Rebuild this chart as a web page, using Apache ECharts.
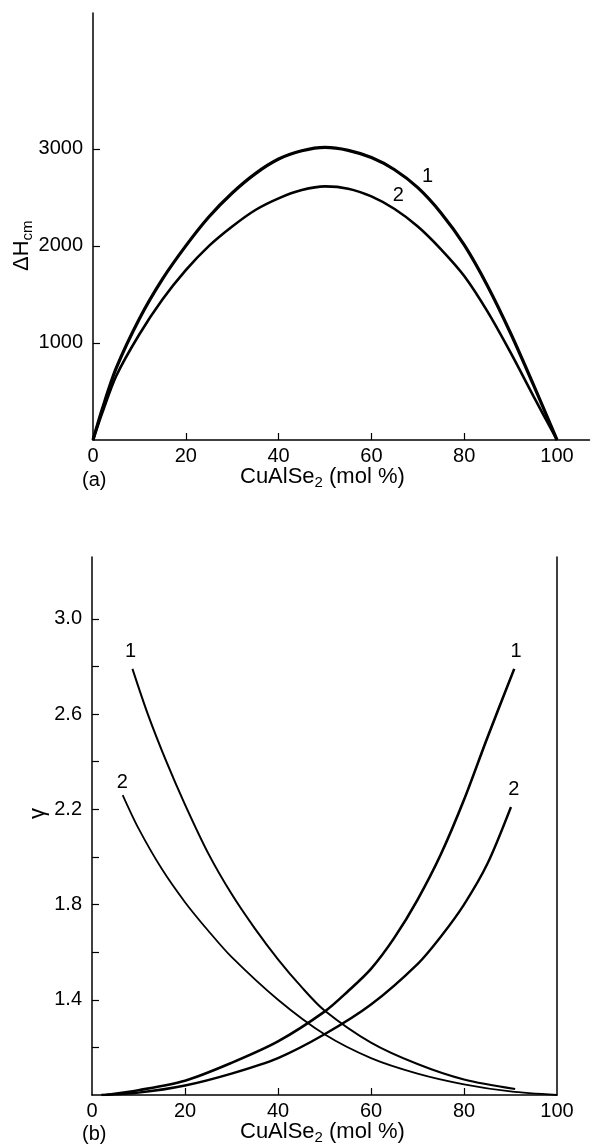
<!DOCTYPE html>
<html>
<head>
<meta charset="utf-8">
<script src="https://cdn.jsdelivr.net/npm/echarts@6/dist/echarts.min.js"></script>
<style>
html,body{margin:0;padding:0;background:#fff;}
#c{width:591px;height:1146px;}
</style>
</head>
<body>
<div id="c"></div>
<script>
// ---------- data: panel (a) ----------
const xTickValues = [0, 20, 40, 60, 80, 100];
const hTickValues = [1000, 2000, 3000];
const hX = [0, 2, 5, 10, 15, 20, 25, 30, 35, 40, 45, 50, 55, 60, 65, 70, 75, 80, 85, 90, 95, 100];
const h1 = [0, 320, 740, 1250, 1660, 2000, 2300, 2545, 2745, 2895, 2980, 3015, 2985, 2910, 2785, 2600, 2340, 2010, 1590, 1100, 560, 0];
const h2 = [0, 280, 660, 1090, 1450, 1750, 2000, 2200, 2370, 2490, 2575, 2613, 2590, 2510, 2380, 2200, 1965, 1690, 1325, 900, 445, 0];
const hLabels = [[72.2, 2710, '1'], [65.9, 2513, '2']];

// ---------- data: panel (b) ----------
const gLabelTicks = [1.4, 1.8, 2.2, 2.6, 3.0];
const gAllTicks = [1.2, 1.4, 1.6, 1.8, 2.0, 2.2, 2.4, 2.6, 2.8, 3.0];
const xTickInner = [20, 40, 60, 80];
const asc1X = [3, 10, 20, 30, 40, 50, 55, 60, 65, 70, 75, 80, 85, 90.8];
const asc1Y = [1.0, 1.02, 1.06, 1.135, 1.225, 1.35, 1.435, 1.53, 1.66, 1.82, 2.01, 2.24, 2.50, 2.79];
const asc2X = [2, 10, 20, 30, 40, 50, 60, 70, 75, 80, 85, 90.1];
const asc2Y = [1.0, 1.01, 1.04, 1.09, 1.155, 1.255, 1.38, 1.55, 1.665, 1.80, 1.97, 2.21];
const desc1X = [8.7, 12, 16, 20, 25, 30, 35, 40, 45, 50, 60, 70, 80, 91];
const desc1Y = [2.79, 2.60, 2.40, 2.22, 2.015, 1.845, 1.70, 1.57, 1.455, 1.355, 1.22, 1.13, 1.065, 1.025];
const desc2X = [6.6, 10, 15, 20, 25, 30, 40, 50, 60, 70, 80, 90, 100];
const desc2Y = [2.26, 2.12, 1.95, 1.81, 1.69, 1.58, 1.40, 1.255, 1.155, 1.09, 1.045, 1.015, 1.0];
const gLabels = [[8.4, 2.86, '1'], [6.6, 2.31, '2'], [91.3, 2.86, '1'], [90.8, 2.28, '2']];

const zip = (xs, ys) => xs.map((x, i) => [x, ys[i]]);
const FONT = 'Liberation Sans, Arial, Helvetica, sans-serif';
const INK = '#000';

const chart = echarts.init(document.getElementById('c'), null, {renderer: 'canvas'});

const axisLine = {show: true, lineStyle: {color: INK, width: 1.5}};
const tickStyle = {color: INK, width: 1.2};

function labelSeries(xi, yi, pts) {
  return {
    type: 'scatter', xAxisIndex: xi, yAxisIndex: yi, symbolSize: 1,
    itemStyle: {color: 'rgba(0,0,0,0)', opacity: 1}, silent: true,
    data: pts.map(p => ({value: [p[0], p[1]], name: p[2]})),
    label: {show: true, position: [0, 0], align: 'center', verticalAlign: 'middle', opacity: 1,
            formatter: '{b}', color: INK, fontSize: 20, fontFamily: FONT, textBorderWidth: 0}
  };
}
function curve(xi, yi, xs, ys, w) {
  return {
    type: 'line', xAxisIndex: xi, yAxisIndex: yi, data: zip(xs, ys),
    smooth: 0.3, showSymbol: false, silent: true,
    lineStyle: {color: INK, width: w}
  };
}
const titleStyle = {
  text: 'CuAlSe{s|2} (mol %)', font: '22px ' + FONT, fill: INK,
  rich: {s: {fontSize: 15, fontFamily: FONT, padding: [11, 0, 0, 0], fill: INK}}
};

const option = {
  backgroundColor: '#fff',
  animation: false,
  grid: [
    {left: 93, top: 13, width: 496.5, height: 427},
    {left: 92, top: 557, width: 465, height: 538}
  ],
  xAxis: [
    {
      gridIndex: 0, type: 'value', min: 0, max: 107, splitLine: {show: false},
      axisLine: axisLine,
      axisTick: {show: true, inside: true, length: 7, lineStyle: tickStyle, customValues: xTickInner},
      axisLabel: {customValues: xTickValues, color: INK, fontSize: 20, fontFamily: FONT, margin: 6,
                  formatter: v => String(v)}
    },
    {
      gridIndex: 1, type: 'value', min: 0, max: 100, splitLine: {show: false},
      axisLine: axisLine,
      axisTick: {show: true, inside: true, length: 7, lineStyle: tickStyle, customValues: xTickInner},
      axisLabel: {customValues: xTickValues, color: INK, fontSize: 20, fontFamily: FONT, margin: 6,
                  formatter: v => String(v)}
    }
  ],
  yAxis: [
    {
      gridIndex: 0, type: 'value', min: 0, max: 4400, splitLine: {show: false},
      axisLine: axisLine,
      axisTick: {show: true, inside: true, length: 7, lineStyle: tickStyle, customValues: hTickValues},
      axisLabel: {customValues: hTickValues, color: INK, fontSize: 20, fontFamily: FONT, margin: 10,
                  formatter: v => String(v)}
    },
    {
      gridIndex: 1, type: 'value', min: 1.0, max: 3.26, splitLine: {show: false},
      axisLine: axisLine,
      axisTick: {show: true, inside: true, length: 7, lineStyle: tickStyle, customValues: gAllTicks},
      axisLabel: {customValues: gLabelTicks, color: INK, fontSize: 20, fontFamily: FONT, margin: 10,
                  formatter: v => v.toFixed(1)}
    },
    {
      gridIndex: 1, type: 'value', position: 'right', min: 1.0, max: 3.26, splitLine: {show: false},
      axisLine: axisLine, axisTick: {show: false}, axisLabel: {show: false}
    }
  ],
  graphic: [
    {type: 'text', left: 82, top: 470, style: {text: '(a)', font: '20px ' + FONT, fill: INK}},
    {type: 'text', left: 240, top: 466, style: titleStyle},
    {type: 'text', x: 9, y: 271, rotation: Math.PI / 2, style: {
      text: 'ΔH{s|cm}', font: '22px ' + FONT, fill: INK,
      rich: {s: {fontSize: 15, fontFamily: FONT, padding: [11, 0, 0, 0], fill: INK}}}},
    {type: 'text', left: 82, top: 1124, style: {text: '(b)', font: '20px ' + FONT, fill: INK}},
    {type: 'text', left: 240, top: 1121, style: titleStyle},
    {type: 'text', x: 27, y: 819, rotation: Math.PI / 2, style: {text: 'γ', font: '22px ' + FONT, fill: INK}}
  ],
  series: [
    curve(0, 0, hX, h1, 3.2),
    curve(0, 0, hX, h2, 2.6),
    labelSeries(0, 0, hLabels),
    curve(1, 1, asc1X, asc1Y, 2.6),
    curve(1, 1, asc2X, asc2Y, 2.4),
    curve(1, 1, desc1X, desc1Y, 2.0),
    curve(1, 1, desc2X, desc2Y, 1.8),
    labelSeries(1, 1, gLabels)
  ]
};
chart.setOption(option);
</script>
</body>
</html>
